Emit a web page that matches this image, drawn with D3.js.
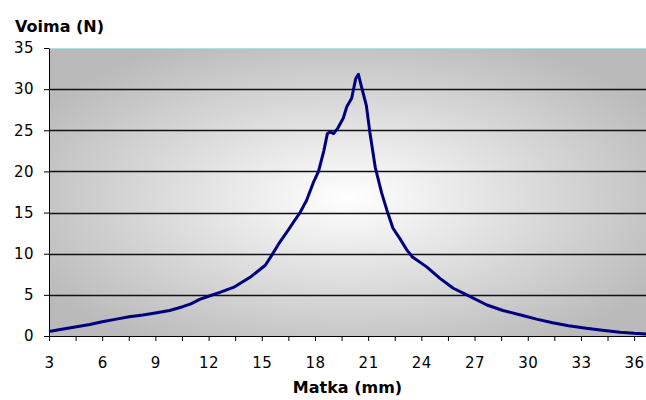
<!DOCTYPE html>
<html>
<head>
<meta charset="utf-8">
<script src="https://cdn.jsdelivr.net/npm/d3@7"></script>
<style>
  body { margin: 0; background: #fff; }
  .axis text { font-family: "DejaVu Sans", Verdana, sans-serif; font-size: 15px; letter-spacing: 0.5px; fill: #000; }
  .axis path, .axis line { stroke: #000; }
</style>
</head>
<body>
<div id="container"></div>
<script>
// distance (mm) and force (N)
const matka = [3.0, 3.8, 4.56, 5.3, 6.0, 6.8, 7.53, 8.3, 9.0, 9.8, 10.54, 11.0, 11.5, 12.04, 12.64,
  13.4, 14.34, 15.2, 15.56, 16.03, 16.5, 16.87, 17.16, 17.53, 17.9, 18.2, 18.5, 18.7, 18.85, 19.05,
  19.3, 19.6, 19.8, 20.07, 20.3, 20.45, 20.6, 20.9, 21.1, 21.4, 21.76, 22.1, 22.4, 22.8, 23.2,
  23.5, 24.3, 25.05, 25.8, 26.56, 27.7, 28.6, 29.6, 30.5, 31.4, 32.3, 33.3, 34.2, 35.2, 36.0, 36.67];
const voima = [0.55, 0.85, 1.13, 1.4, 1.74, 2.05, 2.35, 2.55, 2.8, 3.1, 3.56, 3.9, 4.45, 4.86, 5.3,
  5.9, 7.13, 8.6, 9.8, 11.45, 12.9, 14.1, 15.0, 16.5, 18.6, 20.0, 22.5, 24.6, 24.8, 24.6,
  25.3, 26.5, 27.9, 28.9, 31.3, 31.8, 30.5, 28.0, 24.7, 20.5, 17.4, 15.0, 13.1, 11.8, 10.4,
  9.6, 8.4, 7.0, 5.8, 5.0, 3.77, 3.1, 2.55, 2.05, 1.6, 1.25, 0.93, 0.7, 0.45, 0.32, 0.25];
const xTicks = [3, 6, 9, 12, 15, 18, 21, 24, 27, 30, 33, 36];
const yTicks = [0, 5, 10, 15, 20, 25, 30, 35];

const width = 646;
const height = 400;
const plotL = 49, plotR = 646, plotT = 48, plotB = 336;

const svg = d3.select("div#container").append("svg")
    .attr("width", width)
    .attr("height", height);

const xScale = d3.scaleLinear().domain([3, 36.67]).range([plotL, plotR]);
const yScale = d3.scaleLinear().domain([0, 35]).range([plotB, plotT]);

// plot background, white in the middle fading to grey
const grad = svg.append("defs").append("radialGradient")
    .attr("id", "bg")
    .attr("cx", 0.5).attr("cy", 0.52).attr("r", 0.6);
grad.append("stop").attr("offset", "0%").attr("stop-color", "#ffffff");
grad.append("stop").attr("offset", "100%").attr("stop-color", "#bababa");

svg.append("rect")
    .attr("x", plotL).attr("y", plotT)
    .attr("width", plotR - plotL).attr("height", plotB - plotT)
    .attr("fill", "url(#bg)");

svg.append("line")
    .attr("x1", plotL).attr("x2", plotR)
    .attr("y1", plotT + 0.5).attr("y2", plotT + 0.5)
    .attr("stroke", "#a8e4e8");

// gridlines
svg.append("g")
    .selectAll("line")
    .data(yTicks.filter(d => d > 0 && d < 35))
    .join("line")
    .attr("x1", plotL).attr("x2", plotR)
    .attr("y1", d => Math.round(yScale(d)) + 0.5)
    .attr("y2", d => Math.round(yScale(d)) + 0.5)
    .attr("stroke", "#111")
    .attr("stroke-width", 1.4);

const yaxis = d3.axisLeft(yScale)
    .tickValues(yTicks)
    .tickSize(5)
    .tickPadding(10)
    .tickSizeOuter(0);

svg.append("g")
    .attr("class", "axis")
    .attr("transform", "translate(" + plotL + ",0)")
    .call(yaxis);

const xaxis = d3.axisBottom(xScale)
    .tickValues(d3.range(3, 36.7, 1.5))
    .tickFormat(d => xTicks.includes(d) ? d : "")
    .tickSize(5)
    .tickPadding(16)
    .tickSizeOuter(0);

svg.append("g")
    .attr("class", "axis")
    .attr("transform", "translate(0," + plotB + ")")
    .call(xaxis);

const line = d3.line()
    .x((d, i) => xScale(matka[i]))
    .y(d => yScale(d));

svg.append("path")
    .attr("d", line(voima))
    .attr("fill", "none")
    .attr("stroke", "#00007e")
    .attr("stroke-width", 3)
    .attr("stroke-linejoin", "round");

svg.append("text")
    .attr("x", 15).attr("y", 32)
    .style("font-family", "DejaVu Sans, Verdana, sans-serif")
    .style("font-size", "16px")
    .style("font-weight", "bold")
    .text("Voima (N)");

svg.append("text")
    .attr("x", (plotL + plotR) / 2).attr("y", 393)
    .attr("text-anchor", "middle")
    .style("font-family", "DejaVu Sans, Verdana, sans-serif")
    .style("font-size", "16px")
    .style("font-weight", "bold")
    .text("Matka (mm)");
</script>
</body>
</html>
